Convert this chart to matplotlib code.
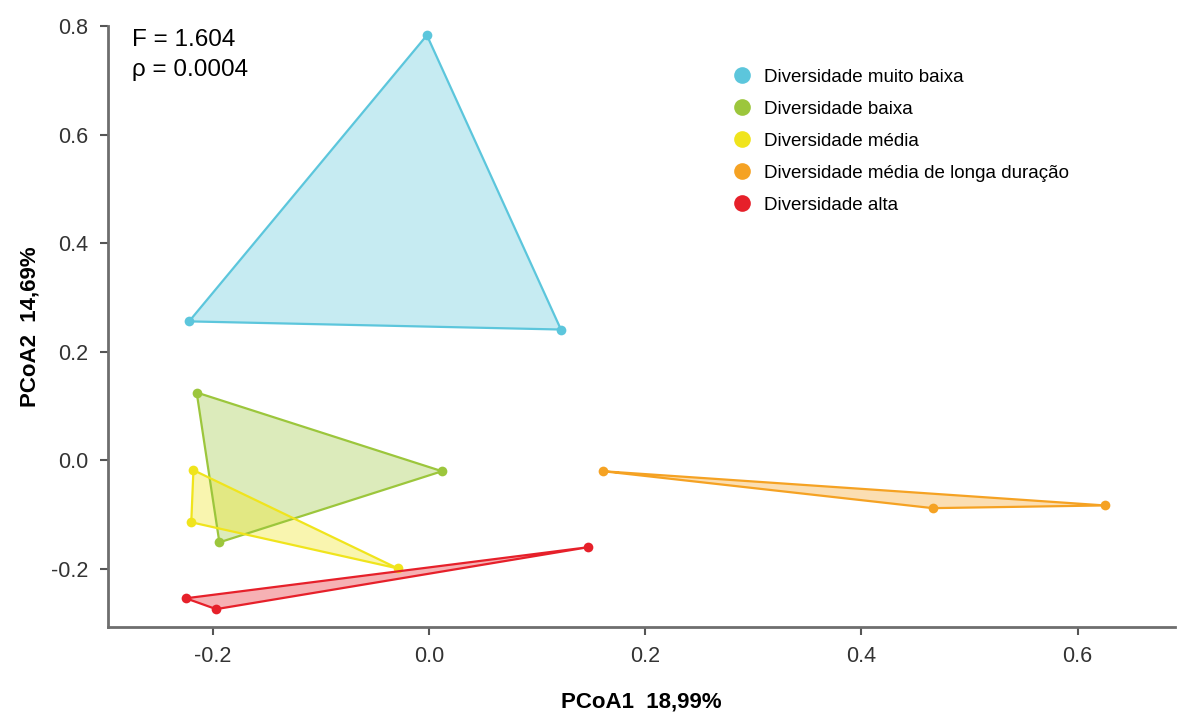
import matplotlib.pyplot as plt
from matplotlib.lines import Line2D

plt.rcParams['font.family'] = ['Liberation Sans', 'DejaVu Sans']

# PCoA coordinates of each diversity group (convex hull vertices)
grupos = ['Diversidade muito baixa', 'Diversidade baixa', 'Diversidade média',
          'Diversidade média de longa duração', 'Diversidade alta']
cores = ['#5cc6dc', '#9cc63c', '#f0e41c', '#f5a223', '#e6202a']

muito_baixa_x = [-0.002, -0.222, 0.122]
muito_baixa_y = [0.783, 0.256, 0.241]
baixa_x = [-0.215, 0.012, -0.194]
baixa_y = [0.125, -0.020, -0.151]
media_x = [-0.218, -0.220, -0.029]
media_y = [-0.018, -0.114, -0.199]
longa_x = [0.161, 0.466, 0.625]
longa_y = [-0.020, -0.088, -0.083]
alta_x = [-0.225, -0.197, 0.147]
alta_y = [-0.254, -0.274, -0.160]

xs = [muito_baixa_x, baixa_x, media_x, longa_x, alta_x]
ys = [muito_baixa_y, baixa_y, media_y, longa_y, alta_y]

fig = plt.figure(figsize=(11.82, 7.15), dpi=100)
ax = fig.add_axes([0.0914, 0.123, 0.9026, 0.8406])

for x, y, c in zip(xs, ys, cores):
    ax.fill(x, y, facecolor=c, alpha=0.35, edgecolor='none')
    ax.plot(x + [x[0]], y + [y[0]], color=c, lw=1.6)
    ax.plot(x, y, 'o', color=c, ms=7, mec='none')

ax.set_xlim(-0.297, 0.69)
ax.set_ylim(-0.307, 0.8)
ax.set_xticks([-0.2, 0.0, 0.2, 0.4, 0.6])
ax.set_yticks([-0.2, 0.0, 0.2, 0.4, 0.6, 0.8])
ax.xaxis.set_major_formatter(plt.FormatStrFormatter('%.1f'))
ax.yaxis.set_major_formatter(plt.FormatStrFormatter('%.1f'))

for s in ['top', 'right']:
    ax.spines[s].set_visible(False)
for s in ['left', 'bottom']:
    ax.spines[s].set_color('#6e6e6e')
    ax.spines[s].set_linewidth(2)
ax.tick_params(direction='out', length=6, width=1.5, color='#555555',
               labelsize=15.5, labelcolor='#333333', pad=8)

ax.set_xlabel('PCoA1  18,99%', fontsize=16, fontweight='bold', labelpad=17)
ax.set_ylabel('PCoA2  14,69%', fontsize=16, fontweight='bold', labelpad=8)

ax.text(0.022, 0.995, 'F = 1.604\nρ = 0.0004', transform=ax.transAxes,
        fontsize=17.5, va='top', ha='left', linespacing=1.45)

handles = [Line2D([], [], marker='o', ls='none', color=c, ms=12, mec='none')
           for c in cores]
ax.legend(handles, grupos, loc='upper left', bbox_to_anchor=(0.568, 0.957),
          frameon=False, fontsize=13.5, labelspacing=0.79, handletextpad=0.55,
          handlelength=1.2)

fig.savefig('out.png', dpi=100)
